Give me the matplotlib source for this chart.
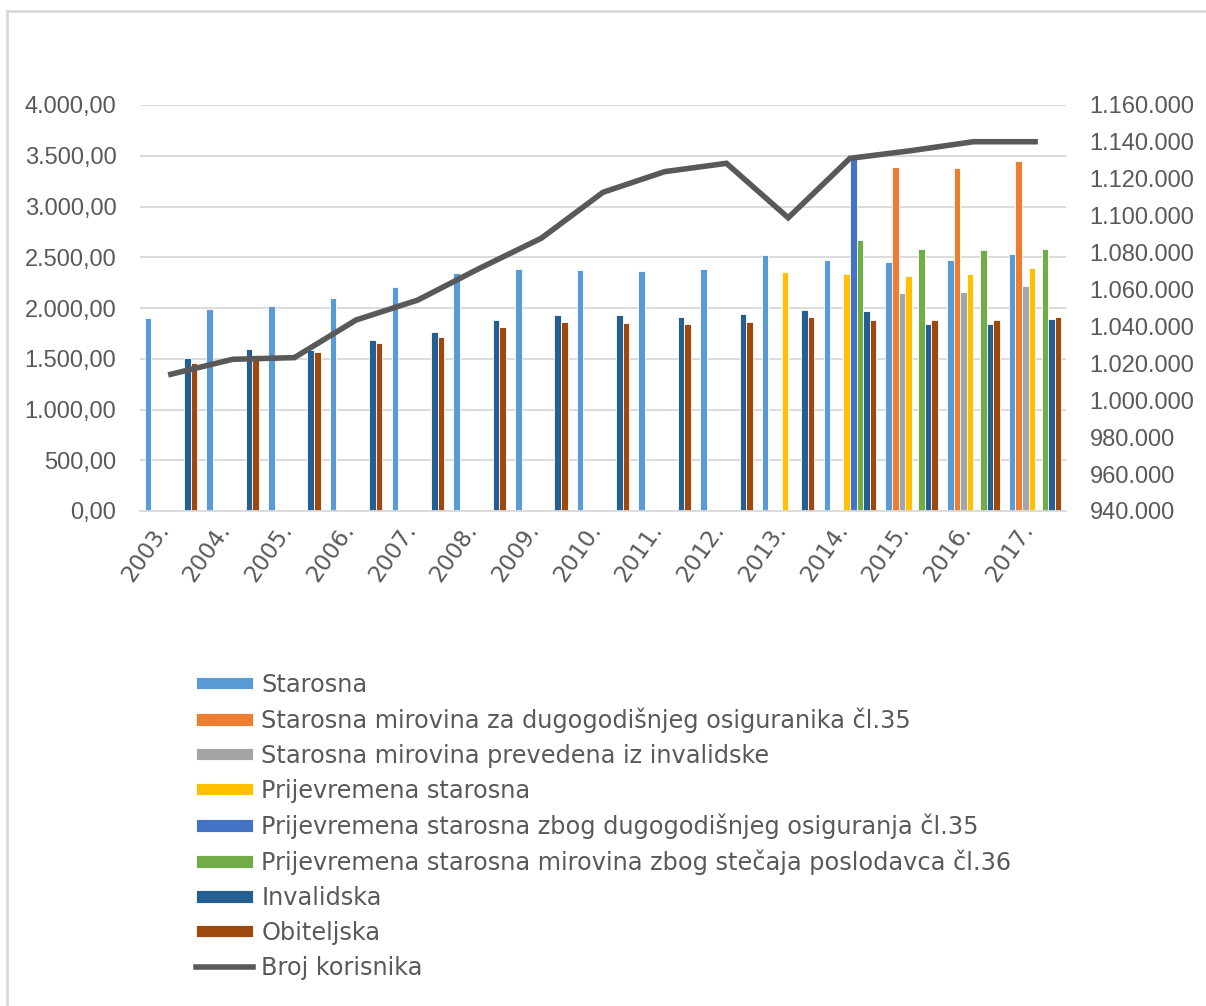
import numpy as np
import matplotlib.pyplot as plt
import matplotlib.transforms as mtransforms
from matplotlib.lines import Line2D
from matplotlib.ticker import FuncFormatter

plt.rcParams['font.family'] = ['Liberation Sans', 'DejaVu Sans']

years = ["2003.", "2004.", "2005.", "2006.", "2007.", "2008.", "2009.", "2010.",
         "2011.", "2012.", "2013.", "2014.", "2015.", "2016.", "2017."]
nan = np.nan

starosna = [1905, 1990, 2020, 2095, 2210, 2345, 2385, 2370, 2360, 2385, 2525, 2473, 2456, 2470, 2535]
starosna_cl35 = [nan] * 12 + [3392, 3383, 3450]
prevedena = [nan] * 12 + [2145, 2158, 2220]
prijevremena = [nan] * 10 + [2358, 2335, 2318, 2335, 2397]
prijevremena_cl35 = [nan] * 11 + [3480, nan, nan, nan]
stecaj_cl36 = [nan] * 11 + [2670, 2584, 2571, 2584]
invalidska = [1511, 1599, 1586, 1685, 1764, 1882, 1928, 1928, 1915, 1938, 1980, 1970, 1839, 1839, 1889]
obiteljska = [1462, 1534, 1563, 1652, 1711, 1816, 1865, 1852, 1839, 1865, 1915, 1882, 1882, 1882, 1915]

broj_korisnika = [1014100, 1022200, 1023100, 1043500, 1054300, 1071500, 1087800, 1112700,
                  1123900, 1128400, 1098900, 1131100, 1135300, 1140100, 1140100]

series = [
    ("Starosna", starosna, "#5B9BD5"),
    ("Starosna mirovina za dugogodišnjeg osiguranika čl.35", starosna_cl35, "#ED7D31"),
    ("Starosna mirovina prevedena iz invalidske", prevedena, "#A5A5A5"),
    ("Prijevremena starosna", prijevremena, "#FFC000"),
    ("Prijevremena starosna zbog dugogodišnjeg osiguranja čl.35", prijevremena_cl35, "#4472C4"),
    ("Prijevremena starosna mirovina zbog stečaja poslodavca čl.36", stecaj_cl36, "#70AD47"),
    ("Invalidska", invalidska, "#255E91"),
    ("Obiteljska", obiteljska, "#9E480E"),
]

txt = "#595959"
grid = "#D9D9D9"
fs = 17

fig = plt.figure(figsize=(12.06, 10.06), dpi=100)
ax = fig.add_axes([140 / 1206, 1 - 511 / 1006, 926 / 1206, 406 / 1006])

x = np.arange(len(years))
w = 0.852 / len(series)
handles = []
for i, (name, vals, col) in enumerate(series):
    b = ax.bar(x - 0.426 + w * (i + 0.5), vals, w, color=col, edgecolor="white",
               linewidth=0.6, label=name, zorder=2)
    handles.append(b)

ax.set_xlim(-0.5, len(years) - 0.5)
ax.set_ylim(0, 4000)
ax.set_yticks(np.arange(0, 4001, 500))
ax.yaxis.set_major_formatter(FuncFormatter(
    lambda v, p: f"{v:,.2f}".replace(",", "X").replace(".", ",").replace("X", ".")))
ax.grid(axis="y", color=grid, linewidth=1.3, zorder=0)
ax.set_axisbelow(True)
for s in ["top", "right", "left"]:
    ax.spines[s].set_visible(False)
ax.spines["bottom"].set_color(grid)
ax.spines["bottom"].set_linewidth(1.3)
ax.tick_params(axis="both", length=0, labelsize=fs, labelcolor=txt)
ax.tick_params(axis="y", pad=17)
ax.tick_params(axis="x", pad=6)
ax.set_xticks(x)
ax.set_xticklabels(years, rotation=55, ha="right", va="top", rotation_mode="anchor",
                   family="DejaVu Sans", fontsize=16.5)
off = mtransforms.ScaledTranslation(-0.16, 0, fig.dpi_scale_trans)
for lab in ax.get_xticklabels():
    lab.set_transform(lab.get_transform() + off)

ax2 = ax.twinx()
line, = ax2.plot(x, broj_korisnika, color="#595959", linewidth=4, label="Broj korisnika",
                 solid_joinstyle="miter", zorder=3)
ax2.set_ylim(940000, 1160000)
ax2.set_yticks(np.arange(940000, 1160001, 20000))
ax2.yaxis.set_major_formatter(FuncFormatter(lambda v, p: f"{int(v):,}".replace(",", ".")))
for s in ax2.spines.values():
    s.set_visible(False)
ax2.tick_params(axis="y", length=0, labelsize=fs, labelcolor=txt, pad=17)

handles.append(line)
leg = fig.legend(handles=handles, loc="upper left", bbox_to_anchor=(186 / 1206, 1 - 663 / 1006),
                 frameon=False, prop={"family": "DejaVu Sans", "size": 17.3},
                 handlelength=2.4, handleheight=0.42,
                 handletextpad=0.33, labelspacing=0.45, borderaxespad=0)
for t in leg.get_texts():
    t.set_color(txt)

# outer chart frame (left and top edges visible in the crop)
fig.add_artist(Line2D([7 / 1206, 7 / 1206], [0, 1 - 11 / 1006], transform=fig.transFigure,
                      color=grid, linewidth=2))
fig.add_artist(Line2D([7 / 1206, 1], [1 - 11 / 1006, 1 - 11 / 1006], transform=fig.transFigure,
                      color=grid, linewidth=2))

fig.savefig("out.png", dpi=100)
